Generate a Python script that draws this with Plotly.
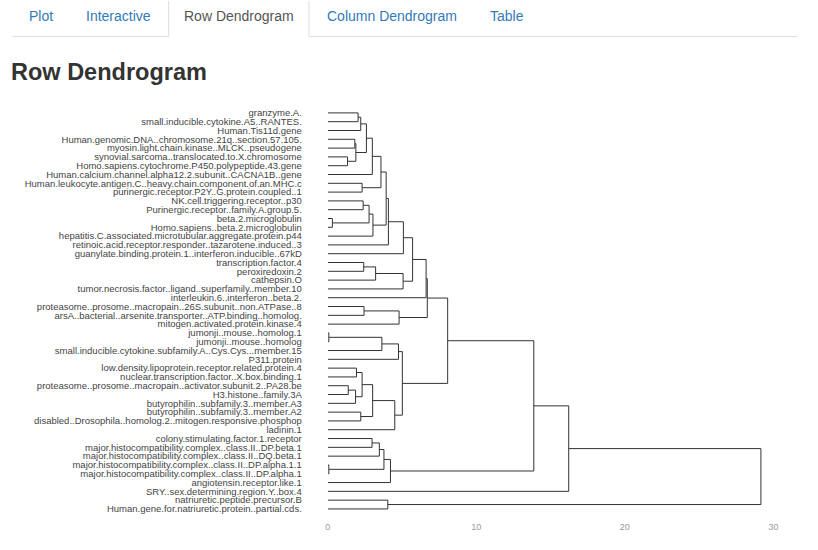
import plotly.graph_objects as go

W, H = 818, 550

# ---------------- data ----------------
leaf_labels = [
    "granzyme.A.",
    "small.inducible.cytokine.A5..RANTES.",
    "Human.Tis11d.gene",
    "Human.genomic.DNA..chromosome.21q..section.57.105.",
    "myosin.light.chain.kinase..MLCK..pseudogene",
    "synovial.sarcoma..translocated.to.X.chromosome",
    "Homo.sapiens.cytochrome.P450.polypeptide.43.gene",
    "Human.calcium.channel.alpha12.2.subunit..CACNA1B..gene",
    "Human.leukocyte.antigen.C..heavy.chain.component.of.an.MHC.c",
    "purinergic.receptor.P2Y..G.protein.coupled..1",
    "NK.cell.triggering.receptor..p30",
    "Purinergic.receptor..family.A.group.5.",
    "beta.2.microglobulin",
    "Homo.sapiens..beta.2.microglobulin",
    "hepatitis.C.associated.microtubular.aggregate.protein.p44",
    "retinoic.acid.receptor.responder..tazarotene.induced..3",
    "guanylate.binding.protein.1..interferon.inducible..67kD",
    "transcription.factor.4",
    "peroxiredoxin.2",
    "cathepsin.O",
    "tumor.necrosis.factor..ligand..superfamily..member.10",
    "interleukin.6..interferon..beta.2.",
    "proteasome..prosome..macropain..26S.subunit..non.ATPase..8",
    "arsA..bacterial..arsenite.transporter..ATP.binding..homolog.",
    "mitogen.activated.protein.kinase.4",
    "jumonji..mouse..homolog.1",
    "jumonji..mouse..homolog",
    "small.inducible.cytokine.subfamily.A..Cys.Cys...member.15",
    "P311.protein",
    "low.density.lipoprotein.receptor.related.protein.4",
    "nuclear.transcription.factor..X.box.binding.1",
    "proteasome..prosome..macropain..activator.subunit.2..PA28.be",
    "H3.histone..family.3A",
    "butyrophilin..subfamily.3..member.A3",
    "butyrophilin..subfamily.3..member.A2",
    "disabled..Drosophila..homolog.2..mitogen.responsive.phosphop",
    "ladinin.1",
    "colony.stimulating.factor.1.receptor",
    "major.histocompatibility.complex..class.II..DP.beta.1",
    "major.histocompatibility.complex..class.II..DQ.beta.1",
    "major.histocompatibility.complex..class.II..DP.alpha.1.1",
    "major.histocompatibility.complex..class.II..DP.alpha.1",
    "angiotensin.receptor.like.1",
    "SRY..sex.determining.region.Y..box.4",
    "natriuretic.peptide.precursor.B",
    "Human.gene.for.natriuretic.protein..partial.cds.",
]

# merges: leaves are 0..45, merge k creates node 46+k
merge_left = [0, 46, 3, 5, 48, 47, 51, 8, 52, 10, 12, 55, 57, 54, 59, 60,
              17, 62, 63, 61, 65, 22, 67, 66, 25, 70, 71, 29, 31, 74, 73,
              34, 76, 78, 72, 69, 37, 82, 40, 83, 85, 81, 87, 44, 88]
merge_right = [1, 2, 4, 6, 49, 50, 7, 9, 53, 11, 13, 56, 14, 58, 15, 16,
               18, 19, 20, 64, 21, 23, 24, 68, 26, 27, 28, 30, 32, 33, 75,
               35, 77, 36, 79, 80, 38, 39, 41, 84, 42, 86, 43, 45, 89]
merge_height = [2.04, 2.22, 1.82, 1.33, 1.89, 2.60, 3.00, 2.31, 3.58, 2.38,
                0.31, 2.78, 3.04, 3.93, 4.08, 5.09, 2.42, 3.22, 5.07, 5.71,
                6.62, 2.44, 4.80, 6.70, 0.07, 3.64, 4.76, 1.93, 1.38, 1.87,
                2.31, 2.22, 3.02, 4.51, 5.02, 8.07, 2.98, 3.47, 0.07, 3.78,
                4.22, 13.87, 16.22, 4.04, 29.16]

x_ticks = [0, 10, 20, 30]
tab_labels = ["Plot", "Interactive", "Row Dendrogram", "Column Dendrogram", "Table"]
active_tab = "Row Dendrogram"
page_title = "Row Dendrogram"

# ---------------- build dendrogram segments ----------------
n = len(leaf_labels)
ypos = {i: float(i) for i in range(n)}
hgt = {i: 0.0 for i in range(n)}
xs, ys = [], []
for k, (a, b, h) in enumerate(zip(merge_left, merge_right, merge_height)):
    node = n + k
    ya, yb = ypos[a], ypos[b]
    xs += [hgt[a], h, h, hgt[b], None]
    ys += [ya, ya, yb, yb, None]
    ypos[node] = (ya + yb) / 2.0
    hgt[node] = h

fig = go.Figure()
fig.add_trace(go.Scatter(x=xs, y=ys, mode="lines",
                         line=dict(color="#333333", width=1),
                         hoverinfo="skip", showlegend=False))

# ---------------- layout helpers (pixel -> paper) ----------------
def fx(px):
    return px / W

def fy(py):
    return 1 - py / H

first_leaf_px, last_leaf_px = 112.3, 509.8
step = (last_leaf_px - first_leaf_px) / (n - 1)
y_top = first_leaf_px - step / 2
y_bot = last_leaf_px + step / 2

FONT = "Liberation Sans, Arial, Helvetica, sans-serif"

fig.update_layout(
    width=W, height=H,
    margin=dict(l=0, r=0, t=0, b=0),
    paper_bgcolor="white", plot_bgcolor="white",
    font=dict(family=FONT),
    xaxis=dict(domain=[fx(328), fx(778)], range=[0, 30],
               tickvals=x_ticks, ticktext=[str(v) for v in x_ticks],
               showgrid=False, zeroline=False, showline=False, ticks="",
               tickfont=dict(size=9, color="#9a9a9a", family=FONT),
               ticklabelstandoff=7, fixedrange=True),
    yaxis=dict(domain=[fy(y_bot), fy(y_top)], range=[n - 0.5, -0.5],
               tickvals=list(range(n)), ticktext=leaf_labels,
               showgrid=False, zeroline=False, showline=False, ticks="",
               tickfont=dict(size=9.5, color="#444444", family=FONT),
               ticklabelstandoff=25, fixedrange=True),
)

# ---------------- page chrome: tabs + heading ----------------
shapes = []
line_col = "#dddddd"
tab_left, tab_right, tab_bottom = 167.3, 309.0, 35.5
shapes.append(dict(type="line", xref="paper", yref="paper",
                   x0=fx(9.5), x1=fx(tab_left), y0=fy(tab_bottom), y1=fy(tab_bottom),
                   line=dict(color=line_col, width=1)))
shapes.append(dict(type="line", xref="paper", yref="paper",
                   x0=fx(tab_right), x1=fx(802), y0=fy(tab_bottom), y1=fy(tab_bottom),
                   line=dict(color=line_col, width=1)))
for xv in (tab_left, tab_right):
    shapes.append(dict(type="line", xref="paper", yref="paper",
                       x0=fx(xv), x1=fx(xv), y0=fy(0), y1=fy(tab_bottom),
                       line=dict(color=line_col, width=1)))
fig.update_layout(shapes=shapes)

tab_centers = [38.1, 117.0, 238.5, 392.7, 509.4]
annotations = []
for lab, cx in zip(tab_labels, tab_centers):
    annotations.append(dict(
        text=lab, x=fx(cx), y=fy(15.5), xref="paper", yref="paper",
        xanchor="center", yanchor="middle", showarrow=False,
        font=dict(size=14, family=FONT,
                  color="#555555" if lab == active_tab else "#337ab7")))
annotations.append(dict(
    text="<b>" + page_title + "</b>", x=fx(6.5), y=fy(71.5), xref="paper", yref="paper",
    xanchor="left", yanchor="middle", showarrow=False,
    font=dict(size=23.5, family=FONT, color="#333333")))
fig.update_layout(annotations=annotations)

fig.write_html("out.html")
